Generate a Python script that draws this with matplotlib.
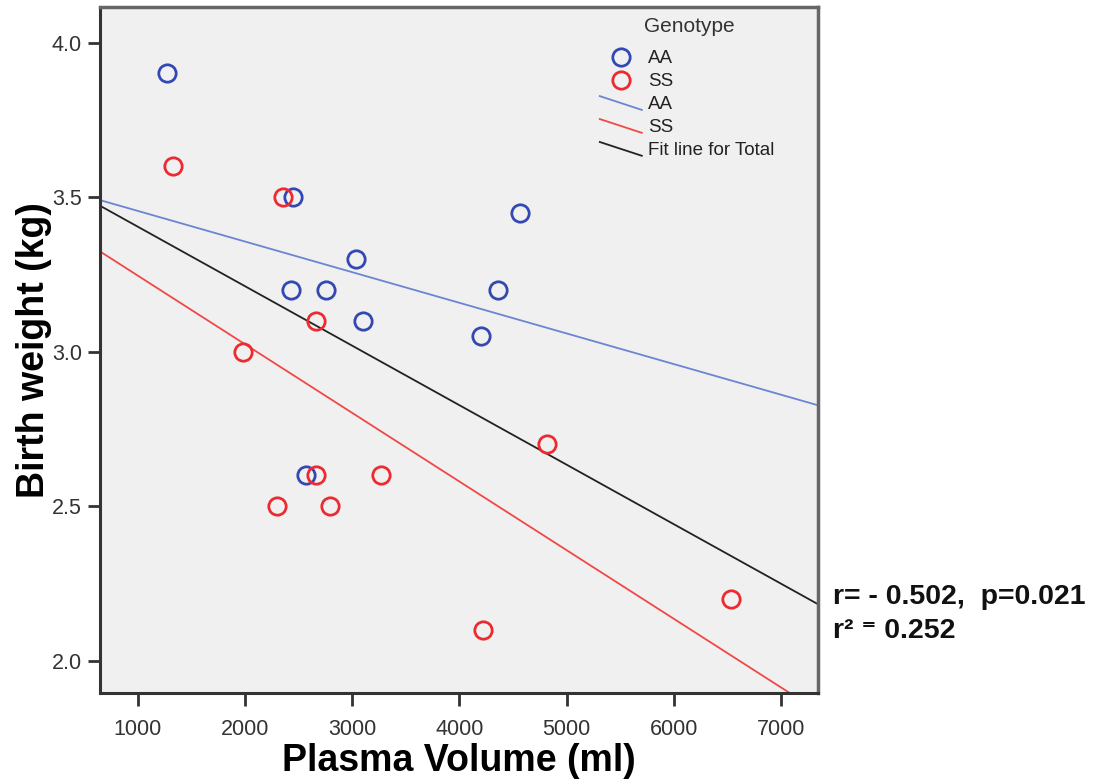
import numpy as np
import matplotlib
matplotlib.use("Agg")
import matplotlib.pyplot as plt
from matplotlib.lines import Line2D
from matplotlib.legend_handler import HandlerBase

# ---- data ----
aa_volume = [1270, 2450, 2430, 2760, 3040, 3100, 4360, 4570, 4200, 2570]
aa_weight = [3.90, 3.50, 3.20, 3.20, 3.30, 3.10, 3.20, 3.45, 3.05, 2.60]
ss_volume = [1330, 2360, 2660, 1980, 2660, 3270, 2300, 2790, 4820, 6530, 4220]
ss_weight = [3.60, 3.50, 3.10, 3.00, 2.60, 2.60, 2.50, 2.50, 2.70, 2.20, 2.10]
x_ticks = [1000, 2000, 3000, 4000, 5000, 6000, 7000]
y_ticks = [2.0, 2.5, 3.0, 3.5, 4.0]
stats_lines = ["r= - 0.502,  p=0.021", "r² ⁼ 0.252"]

plt.rcParams['font.family'] = ['Liberation Sans', 'DejaVu Sans']

blue_pt = '#3448B4'
red_pt = '#EC2A30'
blue_ln = '#6A86D2'
red_ln = '#F04848'

fig = plt.figure(figsize=(11.03, 7.80), dpi=100)
ax = fig.add_axes([0.0907, 0.1115, 0.651, 0.8795])
ax.set_facecolor('#F0F0F0')

xlim = (650, 7345)
ylim = (1.896, 4.115)
ax.set_xlim(*xlim)
ax.set_ylim(*ylim)

# fit lines
xs = np.array(xlim, dtype=float)
all_x = np.array(aa_volume + ss_volume, dtype=float)
all_y = np.array(aa_weight + ss_weight, dtype=float)
for vx, vy, col in [(aa_volume, aa_weight, blue_ln), (ss_volume, ss_weight, red_ln), (all_x, all_y, '#222222')]:
    m, b = np.polyfit(np.asarray(vx, float), np.asarray(vy, float), 1)
    ax.plot(xs, m * xs + b, color=col, lw=1.3, zorder=2)

ms = 12.5
ax.plot(aa_volume, aa_weight, 'o', mfc='none', mec=blue_pt, mew=2.0, ms=ms, zorder=3)
ax.plot(ss_volume, ss_weight, 'o', mfc='none', mec=red_pt, mew=2.0, ms=ms, zorder=3)

ax.set_xticks(x_ticks)
ax.set_xticklabels([str(t) for t in x_ticks])
ax.set_yticks(y_ticks)
ax.set_yticklabels([f"{t:.1f}" for t in y_ticks])
ax.tick_params(axis='both', direction='out', length=9, width=2, color='#333333',
               labelsize=15.5, labelcolor='#333333')
ax.tick_params(axis='x', pad=10)
ax.tick_params(axis='y', pad=4)

for s in ['left', 'bottom']:
    ax.spines[s].set_color('#333333')
    ax.spines[s].set_linewidth(2.2)
for s in ['top', 'right']:
    ax.spines[s].set_color('#666666')
    ax.spines[s].set_linewidth(2.5)

ax.set_xlabel('Plasma Volume (ml)', fontsize=27, fontweight='bold', labelpad=2)
ax.set_ylabel('Birth weight (kg)', fontsize=27, fontweight='bold', labelpad=0)


class DiagHandler(HandlerBase):
    def create_artists(self, legend, orig_handle, xdescent, ydescent, width, height, fontsize, trans):
        l = Line2D([-xdescent, -xdescent + width], [1.0 * height, -0.05 * height],
                   color=orig_handle.get_color(), lw=orig_handle.get_linewidth())
        l.set_transform(trans)
        return [l]


h_aa = Line2D([], [], ls='none', marker='o', mfc='none', mec=blue_pt, mew=2.0, ms=ms)
h_ss = Line2D([], [], ls='none', marker='o', mfc='none', mec=red_pt, mew=2.0, ms=ms)
l_aa = Line2D([], [], color=blue_ln, lw=1.3)
l_ss = Line2D([], [], color=red_ln, lw=1.3)
l_tot = Line2D([], [], color='#222222', lw=1.3)
dh = DiagHandler()
leg = ax.legend([h_aa, h_ss, l_aa, l_ss, l_tot], ['AA', 'SS', 'AA', 'SS', 'Fit line for Total'],
                handler_map={l_aa: dh, l_ss: dh, l_tot: dh},
                loc='upper left', bbox_to_anchor=(0.696, 0.937),
                frameon=False, fontsize=13.5, handlelength=2.24,
                handletextpad=0.32, labelspacing=0.31, borderpad=0, borderaxespad=0)
for t in leg.get_texts():
    t.set_color('#222222')
ax.text(0.820, 0.972, 'Genotype', transform=ax.transAxes, fontsize=15, color='#333333',
        ha='center', va='center')

ax.text(1.021, 0.14, stats_lines[0], transform=ax.transAxes, fontsize=20.5, fontweight='bold',
        va='center', ha='left', color='#111111')
ax.text(1.021, 0.09, stats_lines[1], transform=ax.transAxes, fontsize=20.5, fontweight='bold',
        va='center', ha='left', color='#111111')

fig.savefig('out.png', dpi=100)
